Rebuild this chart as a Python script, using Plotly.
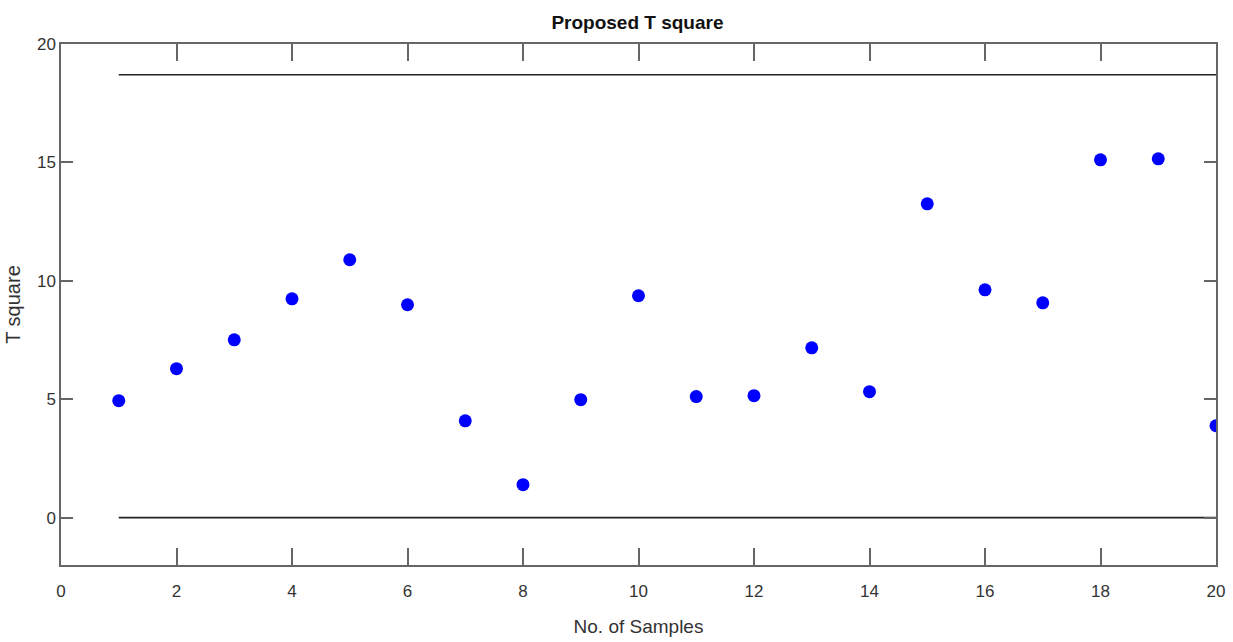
import plotly.graph_objects as go

# T-square statistic per sample
samples = list(range(1, 21))
t_square = [4.94, 6.29, 7.51, 9.24, 10.89, 8.99, 4.09, 1.39, 4.98, 9.37,
            5.11, 5.15, 7.17, 5.32, 13.25, 9.62, 9.07, 15.11, 15.15, 3.88]

# control limits
ucl = 18.7
lcl = 0.0

x_ticks = [0, 2, 4, 6, 8, 10, 12, 14, 16, 18, 20]
y_ticks = [0, 5, 10, 15, 20]

narrow = "Liberation Sans Narrow, Arial Narrow, Liberation Sans, Arial, sans-serif"

fig = go.Figure()

fig.add_trace(go.Scatter(
    x=[samples[0], samples[-1]], y=[ucl, ucl], mode="lines",
    line=dict(color="#222222", width=1.6), showlegend=False, hoverinfo="skip"))
fig.add_trace(go.Scatter(
    x=[samples[0], samples[-1]], y=[lcl, lcl], mode="lines",
    line=dict(color="#222222", width=1.6), showlegend=False, hoverinfo="skip"))

fig.add_trace(go.Scatter(
    x=samples, y=t_square, mode="markers",
    marker=dict(color="#0000ff", size=13, line=dict(width=0)),
    showlegend=False))

axis_common = dict(
    showline=True, linecolor="#666666", linewidth=1.5, mirror="ticks",
    ticks="inside", tickcolor="#666666", tickwidth=1.5,
    showgrid=False, zeroline=False, automargin=False,
    tickfont=dict(family=narrow, size=17, color="#333333"),
)

fig.update_xaxes(range=[0, 20], tickvals=x_ticks, ticklen=17, ticklabelstandoff=10,
                 title=dict(text="No. of Samples", standoff=20,
                            font=dict(family=narrow, size=19, color="#333333")),
                 **axis_common)
fig.update_yaxes(range=[-2, 20], tickvals=y_ticks, ticklen=12,
                 title=dict(text="T square", standoff=11,
                            font=dict(family="Liberation Sans, Arial, sans-serif", size=20, color="#333333")),
                 **axis_common)

fig.update_layout(
    width=1233, height=642,
    margin=dict(l=61, r=17, t=44, b=77),
    paper_bgcolor="white", plot_bgcolor="white",
    title=dict(text="<b>Proposed T square</b>", x=0.517, xanchor="center", y=0.965, yanchor="middle",
               font=dict(family=narrow, size=19, color="#111111")),
)

fig.write_html("out.html")
